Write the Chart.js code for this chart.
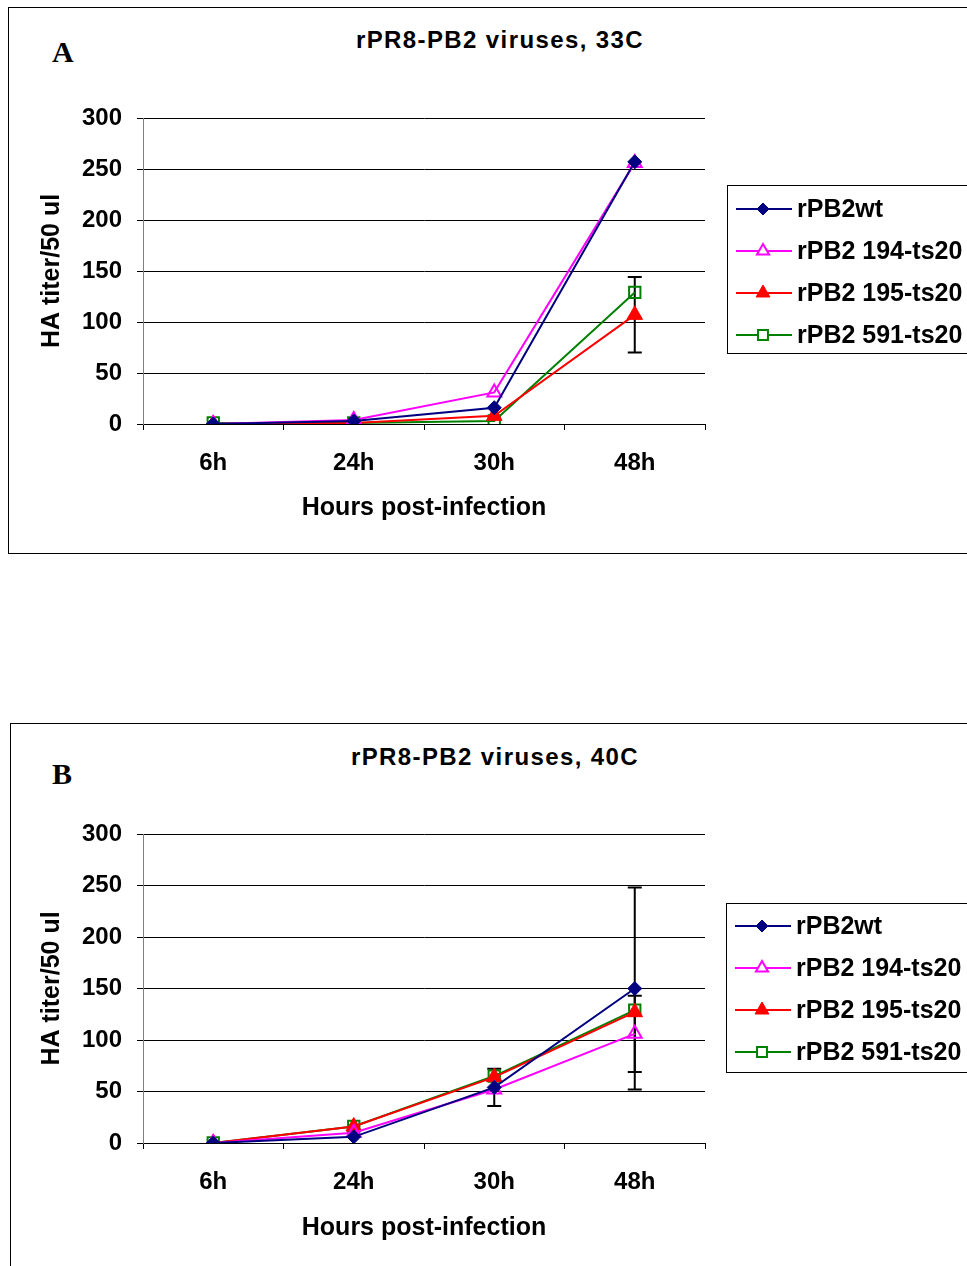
<!DOCTYPE html>
<html>
<head>
<meta charset="utf-8">
<script src="https://cdn.jsdelivr.net/npm/chart.js@4.4.0/dist/chart.umd.min.js"></script>
<style>
body { margin: 0; background: #fff; width: 967px; height: 1266px; position: relative; overflow: hidden; font-family: "Liberation Sans", Arial, sans-serif; }
.box { position: absolute; border: 1px solid #000; }
#boxA { left: 8px; top: 7px; width: 990px; height: 545px; }
#boxB { left: 10px; top: 723px; width: 990px; height: 600px; }
.title { position: absolute; font-weight: bold; font-size: 24px; line-height: 28px; letter-spacing: 1.4px; text-align: center; color: #000; }
.letter { position: absolute; font-family: "Liberation Serif", "Times New Roman", serif; font-weight: bold; font-size: 30px; line-height: 30px; color: #000; }
canvas { position: absolute; left: 0; }
#chartA { top: 0; }
#chartB { top: 700px; }
</style>
</head>
<body>
<div class="box" id="boxA"></div>
<div class="box" id="boxB"></div>
<div class="title" style="left:0; width:1000px; top:26px;">rPR8-PB2 viruses, 33C</div>
<div class="title" style="left:0; width:990px; top:743px;">rPR8-PB2 viruses, 40C</div>
<div class="letter" style="left:52px; top:37px;">A</div>
<div class="letter" style="left:52px; top:759px;">B</div>
<canvas id="chartA" width="967" height="553"></canvas>
<canvas id="chartB" width="967" height="566"></canvas>
<script>
// Data

var hours = ['6h', '24h', '30h', '48h'];
var seriesNames = ['rPB2wt', 'rPB2 194-ts20', 'rPB2 195-ts20', 'rPB2 591-ts20'];
var yTicks = [0, 50, 100, 150, 200, 250, 300];

// 33C
var wt33 = [0, 3, 16, 257];
var ts194_33 = [0, 4, 31, 256];
var ts195_33 = [0, 1, 8, 107];
var ts591_33 = [1, 1, 3, 129];
var err195_33 = [0, 0, 0, 37];

// 40C
var wt40 = [0, 6, 54, 150];
var ts194_40 = [0, 10, 52, 106];
var ts195_40 = [0, 16, 64, 127];
var ts591_40 = [0, 16, 65, 129];
var errWt40 = [0, 0, 18, 98];
var err194_40 = [0, 0, 0, 37];

Chart.defaults.font.family = '"Liberation Sans", Arial, sans-serif';
Chart.defaults.color = '#000';

// error bars drawn under the markers
var errorBarPlugin = {
	id: 'errorBars',
	beforeDatasetsDraw: function(chart) {
		var ctx = chart.ctx;
		var yScale = chart.scales.y;
		ctx.save();
		ctx.strokeStyle = '#000';
		ctx.lineWidth = 2;
		chart.data.datasets.forEach(function(ds, i) {
			if (!ds.errorBars) return;
			var meta = chart.getDatasetMeta(i);
			ds.errorBars.forEach(function(e, j) {
				if (!e) return;
				var x = meta.data[j].x;
				var top = yScale.getPixelForValue(ds.data[j] + e);
				var bot = yScale.getPixelForValue(ds.data[j] - e);
				ctx.beginPath();
				ctx.moveTo(x, top); ctx.lineTo(x, bot);
				ctx.moveTo(x - 7, top); ctx.lineTo(x + 7, top);
				ctx.moveTo(x - 7, bot); ctx.lineTo(x + 7, bot);
				ctx.stroke();
			});
		});
		ctx.restore();
	}
};

// excel style legend in a box
var boxLegendPlugin = {
	id: 'boxLegend',
	afterDraw: function(chart, args, opts) {
		var ctx = chart.ctx;
		ctx.save();
		ctx.strokeStyle = '#000';
		ctx.lineWidth = 1;
		ctx.strokeRect(opts.x + 0.5, opts.y + 0.5, opts.w, opts.h);
		chart.data.datasets.forEach(function(ds, i) {
			var y = opts.y + opts.first + i * opts.step;
			ctx.strokeStyle = ds.borderColor;
			ctx.lineWidth = 2;
			ctx.beginPath();
			ctx.moveTo(opts.x + 9, y); ctx.lineTo(opts.x + 65, y);
			ctx.stroke();
			ctx.fillStyle = ds.legendFill;
			ctx.lineWidth = ds.pointBorderWidth;
			Chart.helpers.drawPoint(ctx, {pointStyle: ds.pointStyle, radius: ds.pointRadius - 1, rotation: 0, borderWidth: ds.pointBorderWidth}, opts.x + 36, y);
			ctx.fillStyle = '#000';
			ctx.font = 'bold 25px "Liberation Sans", Arial, sans-serif';
			ctx.textBaseline = 'middle';
			ctx.fillText(ds.label, opts.x + 70, y + 1);
		});
		ctx.restore();
	}
};

function buildDatasets(values, errors) {
	return [{
		label: seriesNames[0], data: values[0], errorBars: errors[0],
		borderColor: '#000080', backgroundColor: '#000080', legendFill: '#000080',
		pointStyle: 'rectRot', pointRadius: 7, pointBorderWidth: 1
	}, {
		label: seriesNames[1], data: values[1], errorBars: errors[1],
		borderColor: '#FF00FF', backgroundColor: 'rgba(0,0,0,0)', legendFill: '#fff',
		pointStyle: 'triangle', pointRadius: 8, pointBorderWidth: 2
	}, {
		label: seriesNames[2], data: values[2], errorBars: errors[2],
		borderColor: '#FF0000', backgroundColor: '#FF0000', legendFill: '#FF0000',
		pointStyle: 'triangle', pointRadius: 9, pointBorderWidth: 1
	}, {
		label: seriesNames[3], data: values[3], errorBars: errors[3],
		borderColor: '#008000', backgroundColor: 'rgba(0,0,0,0)', legendFill: '#fff',
		pointStyle: 'rect', pointRadius: 8, pointBorderWidth: 2
	}];
}

function makeChart(id, datasets, padTop, xHeight, xTitlePad, legend) {
	datasets.forEach(function(ds) {
		ds.borderWidth = 2;
		ds.tension = 0;
		ds.fill = false;
		ds.pointBackgroundColor = ds.backgroundColor;
		ds.pointBorderColor = ds.borderColor;
		ds.pointHoverRadius = ds.pointRadius;
	});
	return new Chart(id, {
		type: 'line',
		data: { labels: hours, datasets: datasets },
		plugins: [errorBarPlugin, boxLegendPlugin],
		options: {
			responsive: false,
			animation: false,
			layout: { padding: { top: padTop, right: 262, left: 0, bottom: 0 } },
			plugins: {
				legend: { display: false },
				tooltip: { enabled: false },
				boxLegend: legend
			},
			scales: {
				x: {
					offset: true,
					afterFit: function(scale) { scale.height = xHeight; },
					grid: { offset: true, drawOnChartArea: false, drawTicks: true, tickLength: 6, color: '#000' },
					border: { color: '#000', width: 1 },
					ticks: { color: '#000', font: { size: 24, weight: 'bold' }, padding: 19 },
					title: { display: true, text: 'Hours post-infection', color: '#000', font: { size: 25, weight: 'bold' }, padding: { top: 0, bottom: xTitlePad } }
				},
				y: {
					min: 0,
					max: 300,
					afterBuildTicks: function(scale) {
						scale.ticks = yTicks.map(function(v) { return { value: v }; });
					},
					afterFit: function(scale) { scale.width = 143; },
					grid: { color: '#000', lineWidth: 1, drawTicks: true, tickLength: 6 },
					border: { color: '#808080', width: 1 },
					ticks: { color: '#000', font: { size: 24, weight: 'bold' }, padding: 15 },
					title: { display: true, text: 'HA titer/50 ul', color: '#000', font: { size: 25, weight: 'bold' }, padding: { top: 37, bottom: 0 } }
				}
			}
		}
	});
}

makeChart('chartA',
	buildDatasets([wt33, ts194_33, ts195_33, ts591_33], [null, null, err195_33, null]),
	118, 129, 30,
	{ x: 727, y: 185, w: 260, h: 168, first: 24, step: 42 });

makeChart('chartB',
	buildDatasets([wt40, ts194_40, ts195_40, ts591_40], [errWt40, err194_40, null, null]),
	134, 123, 23,
	{ x: 726, y: 203, w: 260, h: 169, first: 23, step: 42 });
</script>
</body>
</html>
